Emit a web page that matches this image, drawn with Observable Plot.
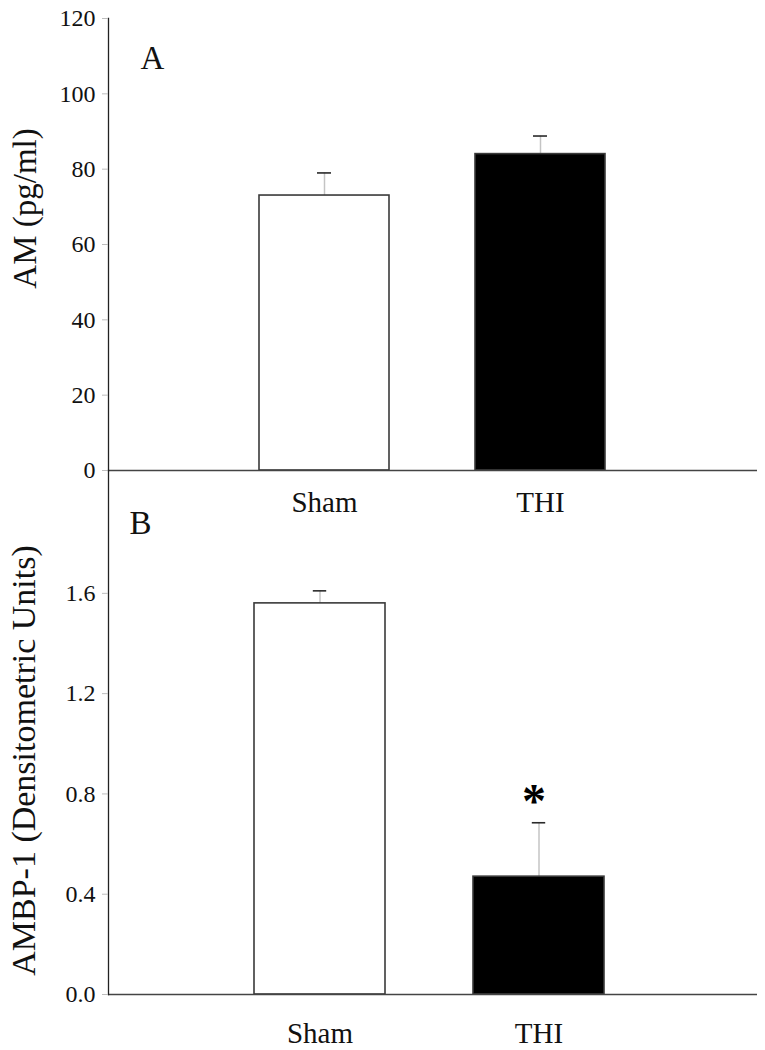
<!DOCTYPE html>
<html>
<head>
<meta charset="utf-8">
<script src="https://cdn.jsdelivr.net/npm/d3@7"></script>
<script src="https://cdn.jsdelivr.net/npm/@observablehq/plot@0.6"></script>
<style>
  html, body { margin: 0; padding: 0; background: #fff; }
  #wrap { position: relative; width: 765px; height: 1050px; overflow: hidden; }
  #wrap svg { position: absolute; left: 0; }
  #wrap svg text { font-family: "Liberation Serif", "Times New Roman", serif; }
</style>
</head>
<body>
<div id="wrap"></div>
<script>
// ---- data ----
const groups = ["Sham", "THI"];
const amMean = [73, 84];          // AM (pg/ml)
const amSem = [6, 4.8];
const ambpMean = [1.56, 0.47];    // AMBP-1 (densitometric units)
const ambpSem = [0.05, 0.215];
const amTicks = [0, 20, 40, 60, 80, 100, 120];
const ambpTicks = [0, 0.4, 0.8, 1.2, 1.6];
const amTitle = "AM (pg/ml)";
const ambpTitle = "AMBP-1 (Densitometric Units)";
const significance = [{group: "THI", y: 0.79, label: "*"}];

const amData = groups.map((g, i) => ({group: g, mean: amMean[i], sem: amSem[i]}));
const ambpData = groups.map((g, i) => ({group: g, mean: ambpMean[i], sem: ambpSem[i]}));

const FONT = '"Liberation Serif", "Times New Roman", serif';

function panel(o) {
  const capInset = (o.bandwidth - 14) / 2;
  const marks = [
    Plot.ruleX(o.data, {x: "group", y1: "mean", y2: d => d.mean + d.sem, stroke: "#c4c4c4", strokeWidth: 1.5}),
    Plot.barY(o.data, {x: "group", y: "mean", fill: "group", stroke: "#3a3a3a", strokeWidth: 1.6}),
    Plot.tickY(o.data, {x: "group", y: d => d.mean + d.sem, insetLeft: capInset, insetRight: capInset, stroke: "#2a2a2a", strokeWidth: 1.6}),
    Plot.ruleY([0], {stroke: "#444", strokeWidth: 1.5}),
    Plot.frame({anchor: "left", stroke: "#222", strokeWidth: 1.3}),
    Plot.axisY({ticks: o.ticks, tickFormat: o.fmt, tickSize: 6, tickPadding: 7, stroke: "#bdbdbd", fill: "#111", fontSize: 24, fontFamily: FONT, label: null}),
    Plot.axisX({tickSize: 0, tickPadding: o.xPad, fontSize: 29, fill: "#111", fontFamily: FONT, label: null}),
    Plot.text([o.title], {frameAnchor: "left", rotate: -90, dx: o.titleDx, dy: o.titleDy, fontSize: o.titleSize, fontFamily: FONT, fill: "#111", textAnchor: "middle", lineAnchor: "middle"}),
    Plot.text([o.letter], {frameAnchor: "top-left", dx: o.letterDx, dy: o.letterDy, fontSize: 33, fontFamily: FONT, fill: "#111", textAnchor: "middle", lineAnchor: "middle"})
  ];
  if (o.sig) marks.push(Plot.text(o.sig, {x: "group", y: "y", text: "label", fontSize: 48, fontFamily: FONT, fontWeight: "bold", fill: "#000", dx: -5, dy: 5, lineAnchor: "middle"}));
  const svg = Plot.plot({
    width: 765,
    height: o.height,
    marginLeft: 108,
    marginRight: 8,
    marginTop: o.marginTop,
    marginBottom: o.marginBottom,
    style: {background: "transparent", fontFamily: FONT, color: "#111", overflow: "visible"},
    x: {type: "band", domain: groups, range: o.xRange, paddingInner: 0.4, paddingOuter: 0, axis: null, label: null},
    y: {domain: o.yDomain, axis: null, label: null},
    color: {domain: groups, range: ["#ffffff", "#000000"]},
    marks
  });
  svg.style.top = o.top + "px";
  return svg;
}

const wrap = document.getElementById("wrap");
wrap.appendChild(panel({
  data: amData, top: 0, height: 530, marginTop: 18, marginBottom: 60,
  yDomain: [0, 120], ticks: amTicks, fmt: d3.format("d"),
  xRange: [259, 605.4], bandwidth: 130, xPad: 21,
  title: amTitle, titleSize: 33, titleDx: -83, titleDy: -36,
  letter: "A", letterDx: 44, letterDy: 40
}));
wrap.appendChild(panel({
  data: ambpData, top: 470, height: 580, marginTop: 0, marginBottom: 56,
  yDomain: [0, 2.09], ticks: ambpTicks, fmt: d3.format(".1f"),
  xRange: [254, 605], bandwidth: 131.6, xPad: 28,
  title: ambpTitle, titleSize: 34, titleDx: -84, titleDy: 28,
  letter: "B", letterDx: 32, letterDy: 53,
  sig: significance
}));
</script>
</body>
</html>
